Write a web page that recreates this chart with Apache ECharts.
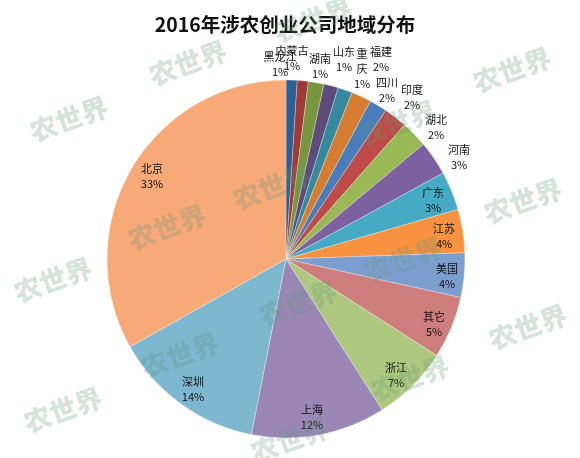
<!DOCTYPE html>
<html>
<head>
<meta charset="utf-8">
<style>
    html, body { margin: 0; padding: 0; background: #fff; }
    #chart { width: 580px; height: 458px; }
</style>
<script src="https://cdn.jsdelivr.net/npm/echarts@6/dist/echarts.min.js"></script>
</head>
<body>
<div id="chart"></div>
<script>
// Data, clockwise from 12 o'clock
var regions = ['黑龙江', '内蒙古', '湖南', '山东', '重\n庆', '福建', '四川', '印度', '湖北', '河南', '广东', '江苏', '美国', '其它', '浙江', '上海', '深圳', '北京'];
var shares = [1.0, 1.0, 1.4, 1.3, 1.3, 1.8, 1.6, 2.1, 2.4, 3.1, 3.5, 3.9, 4.0, 5.6, 6.9, 12.1, 13.7, 33.1];
var shareLabels = ['1%', '1%', '1%', '1%', '1%', '2%', '2%', '2%', '2%', '3%', '3%', '4%', '4%', '5%', '7%', '12%', '14%', '33%'];

var chart = echarts.init(document.getElementById('chart'));

// Where each data label sits, hand placed like the original
var labelSpots = [
    [280, 64], [292, 58], [320, 66], [344, 59], [362, 69], [381, 59],
    [387, 90], [412, 97], [436, 127], [459, 157], [433, 200], [444, 236],
    [447, 276], [434, 324], [396, 375], [312, 417], [193, 389], [152, 176]
];

// Background stamps
var stamps = [
    [69, 119], [188, 63], [313, 20], [512, 70], [397, 123], [272, 187],
    [167, 227], [523, 201], [53, 280], [403, 260], [298, 303], [180, 355],
    [528, 327], [410, 378], [63, 410], [290, 440]
];
var stampElements = stamps.map(function(p) {
    return {
        type: 'text',
        z: 100,
        x: p[0],
        y: p[1],
        rotation: 20 * Math.PI / 180,
        style: {
            text: '农世界',
            x: 0,
            y: 0,
            align: 'center',
            verticalAlign: 'middle',
            fill: 'rgba(96,150,125,0.26)',
            font: '900 27px "Noto Sans CJK SC"'
        }
    };
});

var options = {
    animation: false,
    backgroundColor: '#fff',

    // Slice colors
    color: [
        '#2c5f94', '#a03a38', '#77963d', '#5f4a7c', '#34899f', '#d67d32',
        '#4a7ebb', '#be4b48', '#98b954', '#7d60a0', '#46aac4', '#f69240',
        '#7d9fd0', '#ce7f7d', '#aec97f', '#9a87b6', '#7db7d0', '#f7a977'
    ],

    title: {
        text: '2016年涉农创业公司地域分布',
        left: 280,
        textAlign: 'center',
        top: 10,
        textStyle: {
            fontFamily: '"Noto Sans CJK SC", sans-serif',
            fontSize: 19.5,
            fontWeight: 'bold',
            color: '#111'
        }
    },

    graphic: stampElements,

    series: [{
        type: 'pie',
        center: [286, 259],
        radius: [0, 179],
        startAngle: 90,
        clockwise: true,
        avoidLabelOverlap: false,
        itemStyle: {
            borderWidth: 0.5,
            borderColor: 'rgba(255,255,255,0.6)'
        },
        label: {
            position: 'inside',
            color: '#111',
            fontFamily: '"Noto Sans CJK SC", sans-serif',
            fontSize: 11,
            lineHeight: 15,
            formatter: function(params) {
                return params.name + '\n' + shareLabels[params.dataIndex];
            }
        },
        labelLine: { show: false },
        labelLayout: function(params) {
            var spot = labelSpots[params.dataIndex];
            return { x: spot[0], y: spot[1], align: 'center', verticalAlign: 'middle' };
        },
        data: regions.map(function(name, i) {
            return { name: name, value: shares[i] };
        })
    }]
};

chart.setOption(options);
</script>
</body>
</html>
